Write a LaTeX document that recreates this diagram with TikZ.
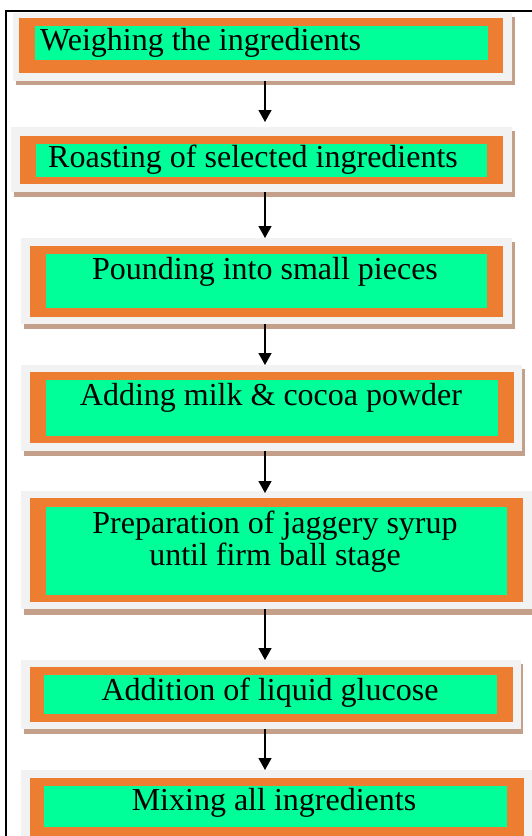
\documentclass[tikz,border=0pt]{standalone}
\usepackage{fontspec}
\setmainfont{Liberation Serif}
\usetikzlibrary{arrows.meta,fit}
\definecolor{grayc}{HTML}{F2F2F2}
\definecolor{orangec}{HTML}{ED7D31}
\definecolor{greenc}{HTML}{00FF99}
\definecolor{shadowc}{RGB}{196,160,138}
\begin{document}
\begin{tikzpicture}[x=1pt,y=-1pt,
  grayfill/.style={fill=grayc,draw=none,inner sep=0pt,outer sep=0pt},
  orangefill/.style={fill=orangec,draw=none,inner sep=0pt,outer sep=0pt},
  greenfill/.style={fill=greenc,draw=none,inner sep=0pt,outer sep=0pt},
  steptext/.style={font=\fontsize{32}{32}\selectfont,inner sep=0pt,anchor=base},
  arr/.style={-{Triangle[length=12pt,width=13pt]},line width=1.3pt,black}]
\useasboundingbox (0,0) rectangle (531,836);
\fill[white] (0,0) rectangle (531,836);
% frame
\draw[line width=2pt] (6,840) -- (6,11) -- (535,11);
% box 1
\fill[shadowc] (16,17) rectangle (515,85);
\node[grayfill,fit={(13,13)(512,81)}] (g1) {};
\node[orangefill,fit={(19,18)(503,73)}] (o1) {};
\node[greenfill,fit={(35,26)(488,60)}] (n1) {};
\node[steptext,anchor=base west] (t1) at (40,50) {Weighing the ingredients};
% box 2
\fill[shadowc] (14,131) rectangle (515,197);
\node[grayfill,fit={(11,127)(512,192)}] (g2) {};
\node[orangefill,fit={(20,136)(503,184)}] (o2) {};
\node[greenfill,fit={(36,144)(487,177)}] (n2) {};
\node[steptext,anchor=base west] (t2) at (48,167) {Roasting of selected ingredients};
% box 3
\fill[shadowc] (24,242) rectangle (515,329);
\node[grayfill,fit={(21,238)(512,324)}] (g3) {};
\node[orangefill,fit={(30,246)(503,317)}] (o3) {};
\node[greenfill,fit={(46,254)(487,308)}] (n3) {};
\node[steptext] (t3) at (265,279) {Pounding into small pieces};
% box 4
\fill[shadowc] (24,369) rectangle (525,456);
\node[grayfill,fit={(21,365)(522,451)}] (g4) {};
\node[orangefill,fit={(30,372)(514,443)}] (o4) {};
\node[greenfill,fit={(46,380)(498,436)}] (n4) {};
\node[steptext] (t4) at (271,405) {Adding milk \& cocoa powder};
% box 5
\fill[shadowc] (24,495) rectangle (540,615);
\node[grayfill,fit={(21,491)(537,609)}] (g5) {};
\node[orangefill,fit={(30,498)(523,602)}] (o5) {};
\node[greenfill,fit={(46,507)(507,595)}] (n5) {};
\node[steptext] (t5a) at (275,533) {Preparation of jaggery syrup};
\node[steptext] (t5b) at (275,565) {until firm ball stage};
% box 6
\fill[shadowc] (24,664) rectangle (523,734);
\node[grayfill,fit={(21,660)(521,729)}] (g6) {};
\node[orangefill,fit={(30,667)(513,722)}] (o6) {};
\node[greenfill,fit={(44,675)(497,714)}] (n6) {};
\node[steptext] (t6) at (270,700) {Addition of liquid glucose};
% box 7
\node[grayfill,fit={(21,770)(540,845)}] (g7) {};
\node[orangefill,fit={(30,778)(524,842)}] (o7) {};
\node[greenfill,fit={(44,786)(507,827)}] (n7) {};
\node[steptext] (t7) at (274,810) {Mixing all ingredients};
% arrows
\coordinate (ax) at (265,0);
\draw[arr,shorten >=5pt] (g1.south -| ax) -- (g2.north -| ax);
\draw[arr] (g2.south -| ax) -- (g3.north -| ax);
\draw[arr] (g3.south -| ax) -- (g4.north -| ax);
\draw[arr,shorten >=-2pt] (g4.south -| ax) -- (g5.north -| ax);
\draw[arr] (g5.south -| ax) -- (g6.north -| ax);
\draw[arr] (g6.south -| ax) -- (g7.north -| ax);
\end{tikzpicture}
\end{document}
